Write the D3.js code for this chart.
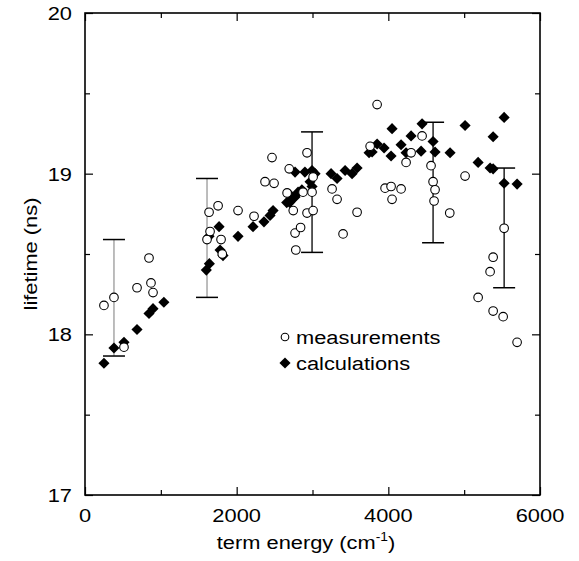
<!DOCTYPE html>
<html>
<head>
<meta charset="utf-8">
<script src="https://cdn.jsdelivr.net/npm/d3@7"></script>
<style>
  body { margin: 0; background: #fff; }
  text { font-family: "Liberation Sans", Arial, sans-serif; fill: #000; }
</style>
</head>
<body>
<div id="chart"></div>
<script>
// measured lifetimes [term energy, lifetime]
const measurements = [
    [250, 18.18], [382, 18.23], [514, 17.92], [686, 18.29], [844, 18.475], [870, 18.32], [897, 18.26],
    [1609, 18.59], [1636, 18.76], [1649, 18.64], [1755, 18.80], [1794, 18.59], [1810, 18.50],
    [2018, 18.77], [2229, 18.735], [2374, 18.95], [2466, 19.10], [2493, 18.94],
    [2665, 18.88], [2693, 19.03], [2746, 18.77], [2770, 18.63], [2780, 18.525], [2843, 18.665],
    [2875, 18.885], [2994, 18.885], [2928, 19.13], [3008, 18.98], [2928, 18.755], [3008, 18.77],
    [3258, 18.905], [3324, 18.84], [3403, 18.625], [3588, 18.76], [3760, 19.17], [3852, 19.43],
    [3957, 18.91], [4036, 18.92], [4168, 18.905], [4049, 18.84], [4234, 19.07], [4300, 19.13],
    [4445, 19.235], [4563, 19.05], [4590, 18.95], [4616, 18.90], [4603, 18.83], [4810, 18.755],
    [5012, 18.985], [5184, 18.23], [5342, 18.39], [5382, 18.48], [5382, 18.145], [5514, 18.11],
    [5527, 18.66], [5698, 17.95]
]

// calculated lifetimes
const calculations = [
    [250, 17.82], [382, 17.915], [514, 17.95], [686, 18.03], [844, 18.13], [897, 18.16], [1040, 18.20],
    [1600, 18.40], [1640, 18.44], [1636, 18.61], [1768, 18.67], [1781, 18.525], [1820, 18.49],
    [2018, 18.61], [2216, 18.67], [2360, 18.70], [2440, 18.74], [2480, 18.77],
    [2660, 18.82], [2700, 18.82], [2730, 18.84], [2770, 18.855], [2810, 18.885], [2860, 18.90],
    [2700, 18.87], [2770, 19.01], [2900, 19.01], [2994, 19.02], [3034, 19.0], [2968, 18.95],
    [2994, 18.92], [3245, 19.0], [3324, 18.97], [3430, 19.02], [3522, 19.0], [3588, 19.035],
    [3746, 19.13], [3852, 19.185],
    [3786, 19.135], [3944, 19.16], [4036, 19.11], [4049, 19.28], [4168, 19.18], [4234, 19.13],
    [4300, 19.235], [4432, 19.14], [4445, 19.31], [4590, 19.20], [4616, 19.135], [4814, 19.13],
    [5012, 19.30], [5184, 19.07], [5342, 19.035], [5382, 19.03], [5382, 19.23], [5527, 19.35],
    [5527, 18.94], [5698, 18.935]
]

// error bars [x, low, high, color]
const errorBars = [
    [382, 17.865, 18.59, "#999"],
    [1609, 18.23, 18.97, "#999"],
    [2994, 18.51, 19.26, "#000"],
    [4590, 18.57, 19.32, "#000"],
    [5527, 18.29, 19.035, "#000"]
]

const xTicks = [0, 2000, 4000, 6000]
const xMinor = [1000, 3000, 5000]
const yTicks = [17, 18, 19, 20]
const yMinor = [17.5, 18.5, 19.5]

const WIDTH = 579
const HEIGHT = 561
const LEFT = 85, RIGHT = 540, TOP = 13, BOTTOM = 495
const STRETCH = 1.15 // the original lettering is a bit wider than Liberation Sans

const x = d3.scaleLinear().domain([0, 6000]).range([LEFT, RIGHT])
const y = d3.scaleLinear().domain([17, 20]).range([BOTTOM, TOP])

const svg = d3.select("#chart")
    .append("svg")
    .attr("width", WIDTH)
    .attr("height", HEIGHT)

// ticks on all four sides, pointing inward
function drawTicks(g, axis, values, len) {
    g.call(axis.tickValues(values).tickSize(len).tickFormat(""))
    g.select(".domain").remove()
    g.selectAll("line").attr("stroke", "#000").attr("stroke-width", 1.2)
}

drawTicks(svg.append("g").attr("transform", `translate(0,${BOTTOM})`), d3.axisTop(x), xTicks, 8)
drawTicks(svg.append("g").attr("transform", `translate(0,${BOTTOM})`), d3.axisTop(x), xMinor, 5)
drawTicks(svg.append("g").attr("transform", `translate(0,${TOP})`), d3.axisBottom(x), xTicks, 8)
drawTicks(svg.append("g").attr("transform", `translate(0,${TOP})`), d3.axisBottom(x), xMinor, 5)
drawTicks(svg.append("g").attr("transform", `translate(${LEFT},0)`), d3.axisRight(y), yTicks, 8)
drawTicks(svg.append("g").attr("transform", `translate(${LEFT},0)`), d3.axisRight(y), yMinor, 5)
drawTicks(svg.append("g").attr("transform", `translate(${RIGHT},0)`), d3.axisLeft(y), yTicks, 8)
drawTicks(svg.append("g").attr("transform", `translate(${RIGHT},0)`), d3.axisLeft(y), yMinor, 5)

svg.append("rect")
    .attr("x", LEFT)
    .attr("y", TOP)
    .attr("width", RIGHT - LEFT)
    .attr("height", BOTTOM - TOP)
    .attr("fill", "none")
    .attr("stroke", "#000")
    .attr("stroke-width", 1.6)

// tick labels
svg.append("g")
    .selectAll("text")
    .data(xTicks)
    .join("text")
        .attr("transform", d => `translate(${x(d)} 522) scale(${STRETCH} 1)`)
        .attr("text-anchor", "middle")
        .attr("font-size", 19)
        .text(d => d)

svg.append("g")
    .selectAll("text")
    .data(yTicks)
    .join("text")
        .attr("transform", d => `translate(72 ${y(d) + 7}) scale(${STRETCH} 1)`)
        .attr("text-anchor", "end")
        .attr("font-size", 19)
        .text(d => d)

// axis titles
let xt = svg.append("text")
    .attr("transform", `translate(306 549) scale(${STRETCH} 1)`)
    .attr("text-anchor", "middle")
    .attr("font-size", 19)
xt.append("tspan").text("term energy (cm")
xt.append("tspan").attr("font-size", 12).attr("dy", -8).text("-1")
xt.append("tspan").attr("dy", 8).text(")")

svg.append("text")
    .attr("transform", `translate(37 ${(TOP + BOTTOM) / 2}) rotate(-90) scale(${STRETCH} 1)`)
    .attr("text-anchor", "middle")
    .attr("font-size", 19)
    .text("lifetime (ns)")

// error bars
let bars = svg.append("g")
    .selectAll("g")
    .data(errorBars)
    .join("g")

bars.append("line")
    .attr("x1", d => x(d[0]))
    .attr("x2", d => x(d[0]))
    .attr("y1", d => y(d[1]))
    .attr("y2", d => y(d[2]))
    .attr("stroke", d => d[3])
    .attr("stroke-width", 1.3)

bars.selectAll(".cap")
    .data(d => [d[1], d[2]].map(v => [d[0], v]))
    .join("line")
        .attr("x1", d => x(d[0]) - 11)
        .attr("x2", d => x(d[0]) + 11)
        .attr("y1", d => y(d[1]))
        .attr("y2", d => y(d[1]))
        .attr("stroke", "#000")
        .attr("stroke-width", 1.5)

// markers
const diamond = d3.symbol().type(d3.symbolSquare).size(62)

svg.append("g")
    .selectAll("path")
    .data(calculations)
    .join("path")
        .attr("d", diamond)
        .attr("transform", d => `translate(${x(d[0])} ${y(d[1])}) rotate(45)`)
        .attr("fill", "#000")

svg.append("g")
    .selectAll("circle")
    .data(measurements)
    .join("circle")
        .attr("cx", d => x(d[0]))
        .attr("cy", d => y(d[1]))
        .attr("r", 4.3)
        .attr("fill", "#fff")
        .attr("stroke", "#000")
        .attr("stroke-width", 1.1)

// legend
const legend = [
    ["measurements", "circle"],
    ["calculations", "diamond"]
]

let lg = svg.append("g")
    .selectAll("g")
    .data(legend)
    .join("g")
        .attr("transform", (d, i) => `translate(285 ${337 + i * 26})`)

lg.filter(d => d[1] === "circle")
    .append("circle")
        .attr("r", 3.8)
        .attr("fill", "#fff")
        .attr("stroke", "#000")
        .attr("stroke-width", 1.1)

lg.filter(d => d[1] === "diamond")
    .append("path")
        .attr("d", diamond)
        .attr("transform", "rotate(45)")
        .attr("fill", "#000")

lg.append("text")
    .attr("transform", `translate(11 7) scale(${STRETCH} 1)`)
    .attr("font-size", 19)
    .text(d => d[0])
</script>
</body>
</html>
